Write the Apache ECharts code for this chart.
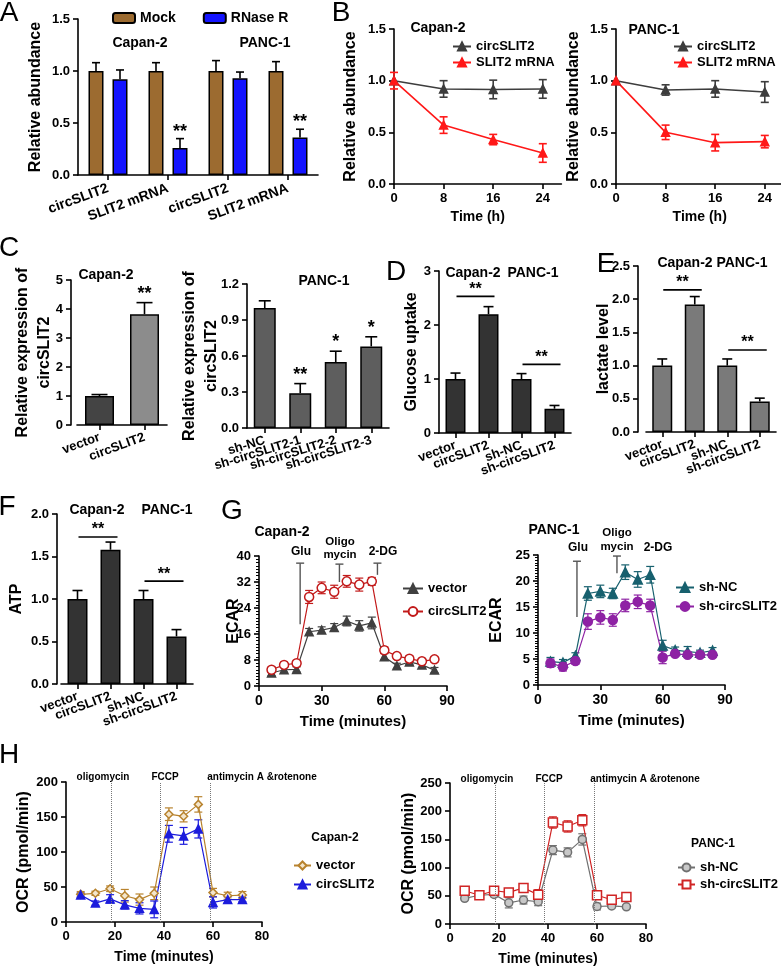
<!DOCTYPE html>
<html><head><meta charset="utf-8">
<script src="https://cdn.jsdelivr.net/npm/echarts@6.0.0/dist/echarts.min.js"></script>
<style>html,body{margin:0;padding:0;background:#fff}#c{width:781px;height:967px}</style>
</head><body><div id="c"></div>
<script>
// ---------------- DATA ----------------
// A
const aCats = ['circSLIT2', 'SLIT2 mRNA', 'circSLIT2', 'SLIT2 mRNA'];
const aMock = [1.0, 1.0, 1.0, 1.0];
const aMockErr = [0.08, 0.08, 0.10, 0.09];
const aRNase = [0.92, 0.26, 0.93, 0.36];
const aRNaseErr = [0.09, 0.09, 0.06, 0.08];
const aStars = ['', '**', '', '**'];
// B
const bTime = [0, 8, 16, 24];
const bTicks = [0, 8, 16, 24];
const bCapCirc = [1.0, 0.92, 0.915, 0.92];
const bCapCircErr = [0, 0.08, 0.09, 0.09];
const bCapMrna = [1.0, 0.57, 0.43, 0.30];
const bCapMrnaErr = [0.08, 0.08, 0.05, 0.09];
const bPanCirc = [1.0, 0.91, 0.92, 0.89];
const bPanCircErr = [0, 0.05, 0.08, 0.10];
const bPanMrna = [1.0, 0.50, 0.40, 0.41];
const bPanMrnaErr = [0, 0.07, 0.08, 0.06];
// C
const cCapCats = ['vector', 'circSLIT2'];
const cCapVals = [1.0, 3.82];
const cCapErr = [0.05, 0.40];
const cCapStars = ['', '**'];
const cPanCats = ['sh-NC', 'sh-circSLIT2-1', 'sh-circSLIT2-2', 'sh-circSLIT2-3'];
const cPanVals = [1.0, 0.29, 0.55, 0.68];
const cPanErr = [0.06, 0.08, 0.09, 0.08];
const cPanStars = ['', '**', '*', '*'];
// D, E, F
const metCats = ['vector', 'circSLIT2', 'sh-NC', 'sh-circSLIT2'];
const dVals = [1.0, 2.2, 1.0, 0.45];
const dErr = [0.11, 0.14, 0.1, 0.06];
const dSig = [[0, 1, 2.53], [2, 3, 1.27]];
const eVals = [1.0, 1.92, 1.0, 0.46];
const eErr = [0.1, 0.12, 0.1, 0.05];
const eSig = [[0, 1, 2.14], [2, 3, 1.235]];
const fVals = [1.0, 1.58, 1.0, 0.56];
const fErr = [0.1, 0.09, 0.1, 0.08];
const fSig = [[0, 1, 1.73], [2, 3, 1.21]];
// G
const gTime = [6, 12, 18, 24, 30, 36, 42, 48, 54, 60, 66, 72, 78, 84];
const gCapVector = [4.0, 5.0, 5.1, 16.7, 17.2, 18.0, 20.0, 18.5, 19.4, 9.0, 6.2, 7.4, 6.5, 4.9];
const gCapVectorErr = [0.8, 0.8, 0.8, 1.0, 1.0, 1.2, 1.5, 1.6, 1.8, 1.0, 0.8, 0.8, 0.8, 0.8];
const gCapCirc = [5.0, 6.5, 7.0, 27.4, 30.2, 29.0, 32.2, 31.2, 32.2, 11.0, 9.2, 8.4, 7.6, 8.2];
const gCapCircErr = [0.8, 0.8, 0.8, 2.0, 1.8, 2.0, 1.8, 2.0, 1.2, 1.0, 0.8, 0.8, 0.8, 0.8];
const gPanNC = [4.5, 4.3, 5.6, 17.6, 18.0, 17.6, 21.7, 20.3, 21.2, 7.6, 6.7, 6.4, 6.2, 6.6];
const gPanNCErr = [0.8, 0.6, 0.6, 1.3, 1.2, 1.0, 1.4, 1.5, 1.6, 1.0, 0.6, 1.0, 0.5, 0.6];
const gPanSh = [4.2, 3.5, 4.6, 12.2, 13.0, 12.5, 15.3, 16.0, 15.3, 5.3, 6.0, 5.8, 5.8, 5.8];
const gPanShErr = [0.8, 0.8, 0.6, 1.5, 1.3, 1.2, 1.2, 1.3, 1.2, 1.2, 0.5, 0.5, 0.5, 0.5];
const gCapMarks = [[19.7, 37.8, 19.0], [38.5, 37.5, 32.0], [56.7, 37.8, 34.2]];
const gPanMarks = [[18.75, 23.8, 13.1], [38.0, 24.8, 21.5]];
// H
const hTime = [6, 12, 18, 24, 30, 36, 42, 48, 54, 60, 66, 72];
const hCapVector = [39.5, 41, 47.5, 37.5, 32, 41, 154, 151, 168, 42, 37.5, 38.5];
const hCapVectorErr = [4, 3, 4, 9, 8, 9, 9, 8, 11, 6, 5, 5];
const hCapCirc = [38.5, 27, 33, 24.5, 19.5, 18, 126, 123, 133, 28, 32, 32];
const hCapCircErr = [3, 3, 6, 6, 8, 12, 12, 12, 13, 8, 4, 3];
const hPanNC = [45.5, 51, 52.5, 37.5, 42.5, 39.5, 131, 127, 150, 31, 32, 30.5];
const hPanNCErr = [3, 4, 4, 9, 7, 7, 8, 8, 10, 6, 3, 3];
const hPanSh = [59, 51, 59, 56, 64, 52, 180, 173, 184, 51, 43, 48];
const hPanShErr = [4, 4, 4, 7, 7, 9, 10, 10, 10, 6, 4, 4];
const hInject = [18.4, 38.5, 58.8];

// ---------------- HELPERS ----------------
const FONT = 'Arial, "Liberation Sans", Helvetica, sans-serif';
const txt = (size, weight) => ({color: '#000', fontSize: size, fontWeight: weight || 'bold', fontFamily: FONT});
const AXL = {show: true, onZero: false, lineStyle: {color: '#000', width: 1.6}};
const AXT = {show: true, length: 5, lineStyle: {color: '#000', width: 1.6}};
let uid = 0;

function grid(left, top, width, height) {
  return {left, top, width, height, containLabel: false, outerBoundsMode: 'none'};
}
function catX(gi, cats, rot, size, margin) {
  return {type: 'category', gridIndex: gi, data: cats, boundaryGap: true,
    axisLine: AXL, axisTick: Object.assign({alignWithLabel: true}, AXT),
    axisLabel: Object.assign({interval: 0, rotate: rot, margin: margin}, txt(size)),
    splitLine: {show: false}};
}
function valX(gi, min, max, interval, name, gap, size, ticks) {
  const o = {type: 'value', gridIndex: gi, min, max, interval,
    axisLine: AXL, axisTick: Object.assign({}, AXT),
    axisLabel: Object.assign({margin: 8}, txt(size)),
    splitLine: {show: false},
    name, nameLocation: 'middle', nameGap: gap, nameMoveOverlap: false,
    nameTextStyle: txt(size + 1)};
  if (ticks) { o.axisLabel.customValues = ticks; o.axisTick.customValues = ticks; }
  return o;
}
function valY(gi, min, max, interval, dec, name, gap, extra) {
  return Object.assign({type: 'value', gridIndex: gi, min, max, interval,
    axisLine: AXL, axisTick: AXT,
    axisLabel: Object.assign({margin: 8, formatter: v => v.toFixed(dec)}, txt(13)),
    splitLine: {show: false},
    name, nameLocation: 'middle', nameRotate: 90, nameGap: gap, nameMoveOverlap: false,
    nameTextStyle: Object.assign({lineHeight: 22}, txt(16))}, extra || {});
}
function barSer(xi, yi, vals, width, colors, extra) {
  return Object.assign({type: 'bar', name: 'bar' + (uid++), xAxisIndex: xi, yAxisIndex: yi, data: vals,
    barWidth: width, z: 2,
    itemStyle: {color: Array.isArray(colors) ? (p => colors[p.dataIndex]) : colors, borderColor: '#000', borderWidth: 1.5}}, extra || {});
}
function barErr(xi, yi, vals, errs, dx, cap) {
  return {type: 'custom', name: 'err' + (uid++), xAxisIndex: xi, yAxisIndex: yi, z: 4, silent: true,
    encode: {x: 0, y: 1},
    data: vals.map((v, i) => [i, v, errs[i]]),
    renderItem: (p, api) => {
      const i = api.value(0), v = api.value(1), e = api.value(2);
      const b = api.coord([i, v]), t = api.coord([i, v + e]);
      const x = b[0] + dx;
      const st = {stroke: '#000', lineWidth: 1.6};
      return {type: 'group', children: [
        {type: 'line', shape: {x1: x, y1: b[1], x2: x, y2: t[1]}, style: st},
        {type: 'line', shape: {x1: x - cap, y1: t[1], x2: x + cap, y2: t[1]}, style: st}]};
    }};
}
function starSer(xi, yi, vals, errs, labels, dx, gap, size) {
  return {type: 'custom', name: 'star' + (uid++), xAxisIndex: xi, yAxisIndex: yi, z: 5, silent: true,
    encode: {x: 0, y: 1},
    data: vals.map((v, i) => [i, v + errs[i]]),
    renderItem: (p, api) => {
      const i = api.value(0);
      const c = api.coord([i, api.value(1)]);
      return {type: 'text', x: c[0] + dx, y: c[1] - gap,
        style: {text: labels[i], fill: '#000', fontSize: size, fontWeight: 'bold', fontFamily: FONT, align: 'center', verticalAlign: 'middle'}};
    }};
}
function sigSer(xi, yi, pairs, ext, gap, size) {
  return {type: 'custom', name: 'sig' + (uid++), xAxisIndex: xi, yAxisIndex: yi, z: 5, silent: true,
    encode: {x: [0, 1], y: 2},
    data: pairs,
    renderItem: (p, api) => {
      const a = api.coord([api.value(0), api.value(2)]), b = api.coord([api.value(1), api.value(2)]);
      const x1 = a[0] + 1, x2 = b[0] + ext;
      return {type: 'group', children: [
        {type: 'line', shape: {x1, y1: a[1], x2, y2: a[1]}, style: {stroke: '#000', lineWidth: 1.6}},
        {type: 'text', x: (x1 + x2) / 2, y: a[1] - gap,
          style: {text: '**', fill: '#000', fontSize: size, fontWeight: 'bold', fontFamily: FONT, align: 'center', verticalAlign: 'middle'}}]};
    }};
}
function lineSer(name, xi, yi, xs, ys, color, symbol, size, fill, lw, extra) {
  return Object.assign({type: 'line', name, xAxisIndex: xi, yAxisIndex: yi, z: 3,
    data: xs.map((x, i) => [x, ys[i]]),
    symbol, symbolSize: size, showSymbol: true,
    lineStyle: {color, width: lw},
    itemStyle: {color: fill, borderColor: color, borderWidth: 1.5}}, extra || {});
}
function lineErr(xi, yi, xs, ys, errs, color, cap, lw) {
  return {type: 'custom', name: 'lerr' + (uid++), xAxisIndex: xi, yAxisIndex: yi, z: 2, silent: true,
    encode: {x: 0, y: 1},
    data: xs.map((x, i) => [x, ys[i], errs[i]]),
    renderItem: (p, api) => {
      const x = api.value(0), y = api.value(1), e = api.value(2);
      if (!(e > 0)) return {type: 'group', children: []};
      const t = api.coord([x, y + e]), b = api.coord([x, y - e]);
      const st = {stroke: color, lineWidth: lw};
      return {type: 'group', children: [
        {type: 'line', shape: {x1: t[0], y1: t[1], x2: b[0], y2: b[1]}, style: st},
        {type: 'line', shape: {x1: t[0] - cap, y1: t[1], x2: t[0] + cap, y2: t[1]}, style: st},
        {type: 'line', shape: {x1: b[0] - cap, y1: b[1], x2: b[0] + cap, y2: b[1]}, style: st}]};
    }};
}
function tMarks(xi, yi, marks, color, cap) {
  return {type: 'custom', name: 'mark' + (uid++), xAxisIndex: xi, yAxisIndex: yi, z: 1, silent: true,
    encode: {x: 0, y: [1, 2]},
    data: marks,
    renderItem: (p, api) => {
      const t = api.coord([api.value(0), api.value(1)]), b = api.coord([api.value(0), api.value(2)]);
      const st = {stroke: color, lineWidth: 1.4};
      return {type: 'group', children: [
        {type: 'line', shape: {x1: t[0], y1: t[1], x2: b[0], y2: b[1]}, style: st},
        {type: 'line', shape: {x1: t[0] - cap, y1: t[1], x2: t[0] + cap, y2: t[1]}, style: st}]};
    }};
}
function leg(names, left, top, orient, gap, iw, ih, fs) {
  return {show: true, data: names, left, top, orient, itemGap: gap, itemWidth: iw, itemHeight: ih, padding: 0,
    selectedMode: false, textStyle: txt(fs), formatter: n => n.trim()};
}
function gt(text, x, y, size, weight) {
  return {type: 'text', x, y, silent: true,
    style: {text, fill: '#000', fontSize: size, fontWeight: weight || 'bold', fontFamily: FONT, align: 'center', verticalAlign: 'middle'}};
}

// ---------------- COLOURS ----------------
const C_MOCK = '#9c6b30', C_RNASE = '#1414ff';
const C_BCIRC = '#3d3d3d', C_BMRNA = '#ff1818';
const C_GVEC = '#404040', C_GCIRC = '#c21a1a', C_GNC = '#17606e', C_GSH = '#8e22a4';
const C_HVEC = '#b8832e', C_HCIRC = '#1c1cdc', C_HNC = '#707070', C_HSH = '#d02525';

// ---------------- OPTION ----------------
const option = {
  animation: false,
  backgroundColor: '#fff',
  grid: [
    grid(78, 19, 240, 156),     // 0 A
    grid(394, 29, 167.4, 155),  // 1 B Capan-2 (0..27)
    grid(616, 29, 167.4, 155),  // 2 B PANC-1
    grid(77, 280, 90, 145),     // 3 C Capan-2
    grid(247, 284, 142, 144),   // 4 C PANC-1
    grid(439, 271, 132, 162),   // 5 D
    grid(646, 266, 130, 166),   // 6 E
    grid(61, 514, 132, 170),    // 7 F
    grid(259, 556, 188, 130),   // 8 G Capan-2
    grid(538, 555, 187, 130),   // 9 G PANC-1
    grid(66, 782, 196, 140),    // 10 H Capan-2
    grid(450, 783, 196, 141)    // 11 H PANC-1
  ],
  xAxis: [
    catX(0, aCats, 20, 14, 13),
    valX(1, 0, 27, 8, 'Time (h)', 26, 13, bTicks),
    valX(2, 0, 27, 8, 'Time (h)', 26, 13, bTicks),
    catX(3, cCapCats, 20, 13, 12),
    catX(4, cPanCats, 17, 13, 12),
    catX(5, metCats, 20, 13, 12),
    catX(6, metCats, 20, 13, 12),
    catX(7, metCats, 20, 13, 12),
    valX(8, 0, 90, 30, 'Time (minutes)', 28, 14),
    valX(9, 0, 90, 30, 'Time (minutes)', 28, 14),
    valX(10, 0, 80, 20, 'Time (minutes)', 28, 13),
    valX(11, 0, 80, 20, 'Time (minutes)', 28, 13)
  ],
  yAxis: [
    valY(0, 0, 1.5, 0.5, 1, 'Relative abundance', 31),
    valY(1, 0, 1.5, 0.5, 1, 'Relative abundance', 32),
    valY(2, 0, 1.5, 0.5, 1, 'Relative abundance', 31),
    valY(3, 0, 5, 1, 0, 'Relative expression of\ncircSLIT2', 15, {offset: 6}),
    valY(4, 0, 1.2, 0.3, 1, 'Relative expression of\ncircSLIT2', 24),
    valY(5, 0, 3, 1, 0, 'Glucose uptake', 16),
    valY(6, 0, 2.5, 0.5, 1, 'lactate level', 23, {offset: 8}),
    valY(7, 0, 2.0, 0.5, 1, 'ATP', 29, {offset: 4}),
    valY(8, 0, 40, 8, 0, 'ECAR', 14, {minorTick: {show: true, splitNumber: 8, length: 3, lineStyle: {color: '#000', width: 1}}}),
    valY(9, 0, 25, 5, 0, 'ECAR', 30, {minorTick: {show: true, splitNumber: 10, length: 3, lineStyle: {color: '#000', width: 1}}}),
    valY(10, 0, 200, 50, 0, 'OCR (pmol/min)', 31),
    valY(11, 0, 250, 50, 0, 'OCR (pmol/min)', 30)
  ],
  legend: [
    leg(['Mock', 'RNase R'], 112, 11, 'horizontal', 27, 22, 10, 14),
    leg(['circSLIT2', 'SLIT2 mRNA'], 452, 40, 'vertical', 3, 18, 10, 13),
    leg(['circSLIT2', 'SLIT2 mRNA'], 673, 40, 'vertical', 3, 18, 10, 13),
    leg(['vector', 'circSLIT2 '], 402, 582, 'vertical', 10, 20, 11, 13),
    leg(['sh-NC', 'sh-circSLIT2'], 675, 581, 'vertical', 6, 18, 11, 13),
    leg(['vector ', 'circSLIT2  '], 293, 859, 'vertical', 6, 17, 10, 13),
    leg(['sh-NC ', 'sh-circSLIT2 '], 677, 861, 'vertical', 4, 17, 10, 13)
  ],
  graphic: [
    gt('A', 9, 13, 28, 'normal'), gt('B', 341, 13, 28, 'normal'), gt('C', 9, 248, 28, 'normal'),
    gt('D', 396, 272, 28, 'normal'), gt('E', 606, 264, 28, 'normal'), gt('F', 7, 507, 28, 'normal'),
    gt('G', 232, 511, 28, 'normal'), gt('H', 9, 755, 28, 'normal'),
    gt('Capan-2', 140, 43, 14), gt('PANC-1', 265, 43, 14),
    gt('Capan-2', 438, 28, 14), gt('PANC-1', 654, 30, 14),
    gt('Capan-2', 106, 275, 14), gt('PANC-1', 324, 281, 14),
    gt('Capan-2', 473, 273, 14), gt('PANC-1', 533, 273, 14),
    gt('Capan-2', 685, 263, 14), gt('PANC-1', 742, 263, 14),
    gt('Capan-2', 97, 510, 14), gt('PANC-1', 167, 510, 14),
    gt('Capan-2', 282, 532, 14), gt('PANC-1', 554, 530, 14),
    gt('Glu', 301, 552, 12), gt('Oligo', 340, 542, 11.5), gt('mycin', 340, 555, 11.5), gt('2-DG', 383, 552, 12),
    gt('Glu', 578, 548, 12), gt('Oligo', 617, 533, 11.5), gt('mycin', 617, 547, 11.5), gt('2-DG', 658, 548, 12),
    gt('oligomycin', 103, 777, 10), gt('FCCP', 165, 777, 10), gt('antimycin A &rotenone', 262, 777, 10),
    gt('oligomycin', 487, 779, 10), gt('FCCP', 549, 779, 10), gt('antimycin A &rotenone', 645, 779, 10),
    gt('Capan-2', 335, 838, 12), gt('PANC-1', 713, 844, 12)
  ],
  series: [
    // A
    barSer(0, 0, aMock, 15, C_MOCK, {name: 'Mock', barGap: '60%'}),
    barSer(0, 0, aRNase, 15, C_RNASE, {name: 'RNase R', barGap: '60%'}),
    barErr(0, 0, aMock, aMockErr, -12, 4),
    barErr(0, 0, aRNase, aRNaseErr, 12, 4),
    starSer(0, 0, aRNase, aRNaseErr, aStars, 12, 7, 18),
    // B
    lineSer('circSLIT2', 1, 1, bTime, bCapCirc, C_BCIRC, 'triangle', 8, C_BCIRC, 1.6),
    lineSer('SLIT2 mRNA', 1, 1, bTime, bCapMrna, C_BMRNA, 'triangle', 8, C_BMRNA, 1.6),
    lineErr(1, 1, bTime, bCapCirc, bCapCircErr, C_BCIRC, 4, 1.6),
    lineErr(1, 1, bTime, bCapMrna, bCapMrnaErr, C_BMRNA, 4, 1.6),
    lineSer('circSLIT2', 2, 2, bTime, bPanCirc, C_BCIRC, 'triangle', 8, C_BCIRC, 1.6),
    lineSer('SLIT2 mRNA', 2, 2, bTime, bPanMrna, C_BMRNA, 'triangle', 8, C_BMRNA, 1.6),
    lineErr(2, 2, bTime, bPanCirc, bPanCircErr, C_BCIRC, 4, 1.6),
    lineErr(2, 2, bTime, bPanMrna, bPanMrnaErr, C_BMRNA, 4, 1.6),
    // C
    barSer(3, 3, cCapVals, 29, ['#444444', '#8c8c8c']),
    barErr(3, 3, cCapVals, cCapErr, 0, 8),
    starSer(3, 3, cCapVals, cCapErr, cCapStars, 0, 9, 18),
    barSer(4, 4, cPanVals, 22, '#5e5e5e'),
    barErr(4, 4, cPanVals, cPanErr, 0, 6),
    starSer(4, 4, cPanVals, cPanErr, cPanStars, 0, 9, 18),
    // D
    barSer(5, 5, dVals, 20, '#333333'),
    barErr(5, 5, dVals, dErr, 0, 5),
    sigSer(5, 5, dSig, 6, 7, 16),
    // E
    barSer(6, 6, eVals, 20, '#7a7a7a'),
    barErr(6, 6, eVals, eErr, 0, 5),
    sigSer(6, 6, eSig, 7, 7, 16),
    // F
    barSer(7, 7, fVals, 20, '#333333'),
    barErr(7, 7, fVals, fErr, 0, 5),
    sigSer(7, 7, fSig, 7, 7, 16),
    // G
    tMarks(8, 8, gCapMarks, '#555555', 4),
    lineSer('vector', 8, 8, gTime, gCapVector, C_GVEC, 'triangle', 8, C_GVEC, 1.2),
    lineSer('circSLIT2 ', 8, 8, gTime, gCapCirc, C_GCIRC, 'circle', 9, '#ffffff', 1.2),
    lineErr(8, 8, gTime, gCapVector, gCapVectorErr, C_GVEC, 4, 1.2),
    lineErr(8, 8, gTime, gCapCirc, gCapCircErr, C_GCIRC, 4, 1.2),
    tMarks(9, 9, gPanMarks, '#555555', 4),
    lineSer('sh-NC', 9, 9, gTime, gPanNC, C_GNC, 'triangle', 9, C_GNC, 1.2),
    lineSer('sh-circSLIT2', 9, 9, gTime, gPanSh, C_GSH, 'circle', 9, C_GSH, 1.2),
    lineErr(9, 9, gTime, gPanNC, gPanNCErr, C_GNC, 4, 1.2),
    lineErr(9, 9, gTime, gPanSh, gPanShErr, C_GSH, 4, 1.2),
    // H
    lineSer('vector ', 10, 10, hTime, hCapVector, C_HVEC, 'diamond', 8, '#f4e6cc', 1.2, {
      markLine: {silent: true, symbol: 'none', label: {show: false},
        lineStyle: {type: 'dotted', color: '#777', width: 1}, data: hInject.map(x => ({xAxis: x}))}}),
    lineSer('circSLIT2  ', 10, 10, hTime, hCapCirc, C_HCIRC, 'triangle', 8, C_HCIRC, 1.2),
    lineErr(10, 10, hTime, hCapVector, hCapVectorErr, C_HVEC, 4, 1.2),
    lineErr(10, 10, hTime, hCapCirc, hCapCircErr, C_HCIRC, 4, 1.2),
    lineSer('sh-NC ', 11, 11, hTime, hPanNC, C_HNC, 'circle', 8, '#c8c8c8', 1.2, {
      markLine: {silent: true, symbol: 'none', label: {show: false},
        lineStyle: {type: 'dotted', color: '#777', width: 1}, data: hInject.map(x => ({xAxis: x}))}}),
    lineSer('sh-circSLIT2 ', 11, 11, hTime, hPanSh, C_HSH, 'rect', 9, '#ffffff', 1.2),
    lineErr(11, 11, hTime, hPanNC, hPanNCErr, C_HNC, 4, 1.2),
    lineErr(11, 11, hTime, hPanSh, hPanShErr, C_HSH, 4, 1.2)
  ]
};

const chart = echarts.init(document.getElementById('c'), null, {renderer: 'canvas', width: 781, height: 967});
chart.setOption(option);
</script>
</body></html>
